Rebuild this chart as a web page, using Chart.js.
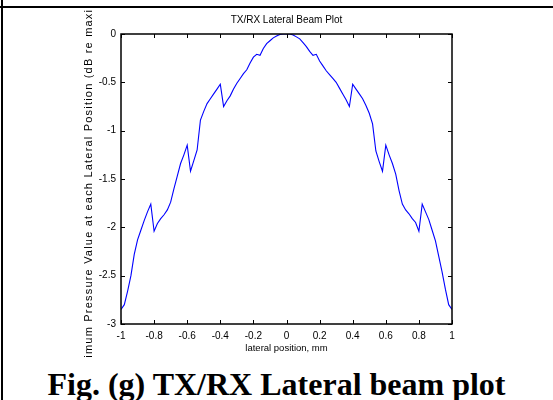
<!DOCTYPE html>
<html>
<head>
<meta charset="utf-8">
<script src="https://cdn.jsdelivr.net/npm/chart.js@4"></script>
<style>
  html, body { margin: 0; padding: 0; background: #fff; }
  body { width: 553px; height: 400px; position: relative; overflow: hidden; }
  #topLine { position: absolute; left: 0; top: 6px; width: 553px; height: 2px; background: #000; }
  #leftLine { position: absolute; left: 1px; top: 0; width: 2px; height: 400px; background: #000; }
  #plotBox { position: absolute; left: 0; top: 8px; width: 553px; height: 350px; overflow: hidden; }
  #caption {
    position: absolute; left: 0; top: 368px; width: 553px; text-align: center;
    font: bold 32px "Liberation Serif", "Times New Roman", serif; line-height: 32px; color: #000;
  }
</style>
</head>
<body>
<div id="topLine"></div>
<div id="leftLine"></div>
<div id="plotBox"><canvas id="beamChart" width="553" height="350"></canvas></div>
<div id="caption">Fig. (g) TX/RX Lateral beam plot</div>

<script>
// lateral position (mm) and normalised max pressure (dB)
const lateralPos = [
  -1.00, -0.98, -0.96, -0.94, -0.92, -0.90, -0.88, -0.86, -0.84, -0.82,
  -0.80, -0.78, -0.76, -0.74, -0.72, -0.70, -0.68, -0.66, -0.64, -0.62,
  -0.60, -0.58, -0.56, -0.54, -0.52, -0.50, -0.48, -0.46, -0.44, -0.42,
  -0.40, -0.38, -0.36, -0.34, -0.32, -0.30, -0.28, -0.26, -0.24, -0.22,
  -0.20, -0.18, -0.16, -0.14, -0.12, -0.10, -0.08, -0.06, -0.04, -0.02,
   0.00,
   0.02,  0.04,  0.06,  0.08,  0.10,  0.12,  0.14,  0.16,  0.18,  0.20,
   0.22,  0.24,  0.26,  0.28,  0.30,  0.32,  0.34,  0.36,  0.38,  0.40,
   0.42,  0.44,  0.46,  0.48,  0.50,  0.52,  0.54,  0.56,  0.58,  0.60,
   0.62,  0.64,  0.66,  0.68,  0.70,  0.72,  0.74,  0.76,  0.78,  0.80,
   0.82,  0.84,  0.86,  0.88,  0.90,  0.92,  0.94,  0.96,  0.98,  1.00
];
const pressureDb = [
  -2.85, -2.80, -2.66, -2.50, -2.28, -2.13, -2.03, -1.93, -1.84, -1.76,
  -2.04, -1.96, -1.91, -1.87, -1.82, -1.74, -1.60, -1.47, -1.34, -1.25,
  -1.15, -1.42, -1.31, -1.20, -0.89, -0.80, -0.72, -0.67, -0.62, -0.57,
  -0.52, -0.75, -0.69, -0.64, -0.57, -0.51, -0.46, -0.41, -0.37, -0.30,
  -0.24, -0.21, -0.22, -0.15, -0.10, -0.07, -0.04, -0.02, -0.005, 0,
   0,
   0, -0.01, -0.03, -0.05, -0.09, -0.13, -0.18, -0.22, -0.21, -0.28,
  -0.33, -0.38, -0.42, -0.46, -0.50, -0.56, -0.62, -0.68, -0.75, -0.52,
  -0.57, -0.62, -0.67, -0.74, -0.82, -0.93, -1.21, -1.32, -1.42, -1.15,
  -1.25, -1.34, -1.45, -1.62, -1.76, -1.82, -1.86, -1.91, -1.95, -2.04,
  -1.76, -1.84, -1.92, -2.03, -2.14, -2.30, -2.46, -2.64, -2.80, -2.85
];
const xTicks = [-1, -0.8, -0.6, -0.4, -0.2, 0, 0.2, 0.4, 0.6, 0.8, 1];
const yTicks = [-3, -2.5, -2, -1.5, -1, -0.5, 0];

const font = "'Liberation Sans', Arial, sans-serif";

// matlab style box with inward ticks on all four sides
const boxTicks = {
  id: 'boxTicks',
  beforeDraw(chart) {
    // the y label in the figure is letter-spaced (and runs off the cell)
    const s = chart.scales.y;
    if (!s._spaced) {
      const orig = s.drawTitle;
      s.drawTitle = function () {
        this.ctx.letterSpacing = '1.2px';
        orig.call(this);
        this.ctx.letterSpacing = '0px';
      };
      s._spaced = true;
    }
  },
  afterDraw(chart) {
    const { ctx, chartArea: a, scales } = chart;
    const len = 4;
    ctx.save();
    ctx.strokeStyle = '#000';
    ctx.lineWidth = 1;
    ctx.beginPath();
    scales.x.ticks.forEach(t => {
      const px = Math.round(scales.x.getPixelForValue(t.value)) + 0.5;
      ctx.moveTo(px, a.bottom); ctx.lineTo(px, a.bottom - len);
      ctx.moveTo(px, a.top); ctx.lineTo(px, a.top + len);
    });
    scales.y.ticks.forEach(t => {
      const py = Math.round(scales.y.getPixelForValue(t.value)) + 0.5;
      ctx.moveTo(a.left, py); ctx.lineTo(a.left + len, py);
      ctx.moveTo(a.right, py); ctx.lineTo(a.right - len, py);
    });
    ctx.stroke();
    ctx.lineWidth = 1.5;
    ctx.strokeRect(a.left, a.top, a.right - a.left, a.bottom - a.top);
    ctx.restore();
  }
};

new Chart(document.getElementById('beamChart'), {
  type: 'scatter',
  data: {
    datasets: [{
      data: lateralPos.map((x, i) => ({ x: x, y: pressureDb[i] })),
      showLine: true,
      borderColor: '#0000ff',
      borderWidth: 1.1,
      pointRadius: 0,
      tension: 0
    }]
  },
  options: {
    responsive: false,
    animation: false,
    events: [],
    layout: { padding: { left: 0, right: 101, top: 0, bottom: 0 } },
    plugins: {
      legend: { display: false },
      tooltip: { enabled: false },
      title: {
        display: true,
        fullSize: false,
        text: 'TX/RX Lateral Beam Plot',
        color: '#000',
        font: { family: font, size: 10, weight: 'normal', lineHeight: 1.2 },
        padding: { top: 6, bottom: 8 }
      }
    },
    scales: {
      x: {
        type: 'linear',
        min: -1, max: 1,
        afterBuildTicks: s => { s.ticks = xTicks.map(v => ({ value: v })); },
        afterFit: s => { s.height = 34; },
        grid: { display: false, drawTicks: false },
        border: { display: false },
        ticks: {
          color: '#000', padding: 6, maxRotation: 0, autoSkip: false,
          font: { family: font, size: 10 },
          callback: v => String(v)
        },
        title: {
          display: true,
          text: 'lateral position, mm',
          color: '#000',
          font: { family: font, size: 9.5, lineHeight: 1.2 },
          padding: { top: 0, bottom: 4 }
        }
      },
      y: {
        type: 'linear',
        min: -3, max: 0,
        afterBuildTicks: s => { s.ticks = yTicks.map(v => ({ value: v })); },
        afterFit: s => { s.width = 121; },
        grid: { display: false, drawTicks: false },
        border: { display: false },
        ticks: {
          color: '#000', padding: 5, autoSkip: false,
          font: { family: font, size: 10 },
          callback: v => String(v)
        },
        title: {
          display: true,
          text: 'Maximum Pressure Value at each Lateral Position (dB re maximum)',
          color: '#000',
          font: { family: font, size: 11, lineHeight: 1.2 },
          padding: { top: 82, bottom: 0 }
        }
      }
    }
  },
  plugins: [boxTicks]
});
</script>
</body>
</html>
